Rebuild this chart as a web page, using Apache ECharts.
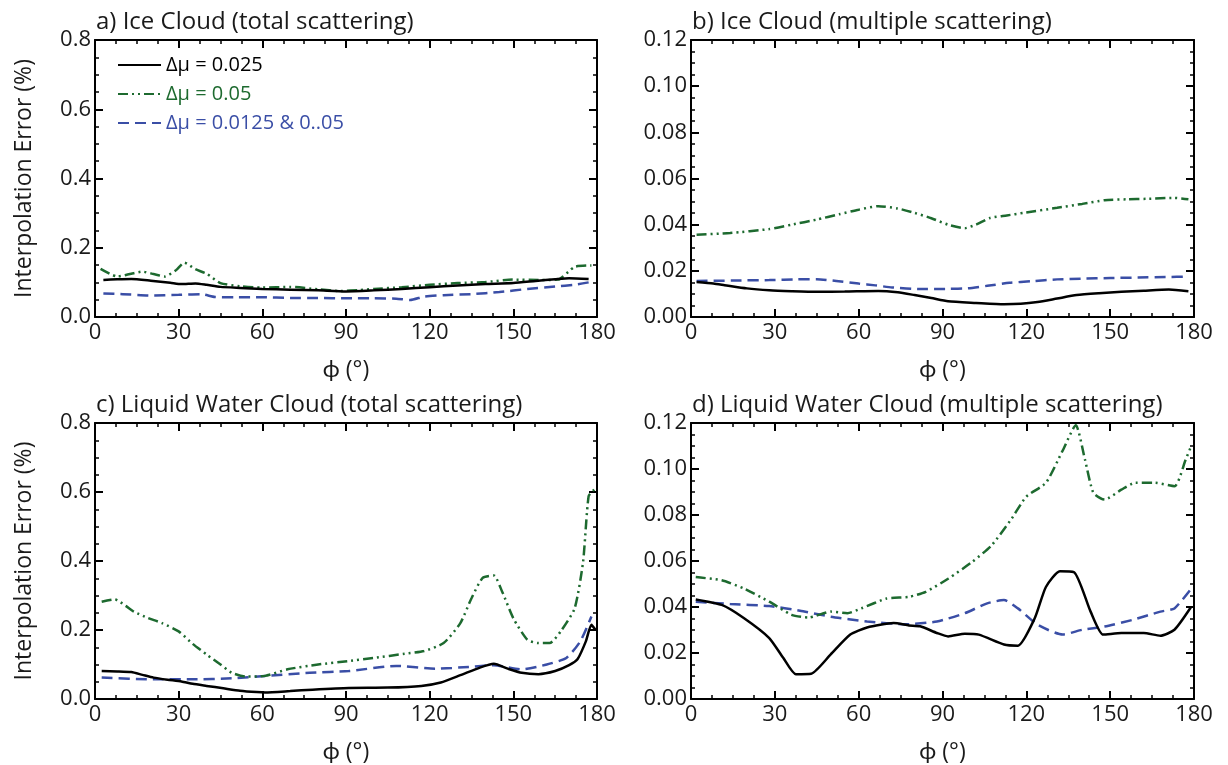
<!DOCTYPE html>
<html><head><meta charset="utf-8">
<script src="https://cdn.jsdelivr.net/npm/echarts@6/dist/echarts.min.js"></script>
<style>html,body{margin:0;padding:0;background:#fff}#c{width:1228px;height:765px}</style>
</head><body><div id="c"></div>
<script>
// ---- data (phi in degrees, interpolation error in %) ----
const seriesNames = ['Δμ = 0.025', 'Δμ = 0.05', 'Δμ = 0.0125 & 0..05'];
const panelTitles = ['a) Ice Cloud (total scattering)', 'b) Ice Cloud (multiple scattering)',
  'c) Liquid Water Cloud (total scattering)', 'd) Liquid Water Cloud (multiple scattering)'];
const xTicks = [0, 30, 60, 90, 120, 150, 180];
const yMaxTotal = 0.8, yStepTotal = 0.2;
const yMaxMulti = 0.12, yStepMulti = 0.02;

const a_black = [[3,0.107],[8,0.109],[13,0.110],[20,0.105],[27,0.099],[31,0.095],[36,0.097],[40,0.093],[45,0.087],[52,0.084],[60,0.081],[70,0.079],[80,0.077],[90,0.074],[100,0.077],[110,0.081],[120,0.086],[130,0.091],[140,0.095],[150,0.098],[158,0.104],[165,0.109],[170,0.112],[177,0.110]];
const a_green = [[2,0.139],[8,0.117],[13,0.125],[17,0.131],[21,0.124],[25,0.117],[29,0.135],[32,0.157],[36,0.138],[40,0.125],[45,0.098],[52,0.089],[60,0.085],[70,0.087],[80,0.080],[88,0.075],[95,0.078],[100,0.081],[110,0.086],[120,0.093],[130,0.098],[140,0.101],[150,0.108],[160,0.107],[166,0.108],[172,0.145],[178,0.149]];
const a_blue = [[3,0.068],[10,0.066],[20,0.062],[30,0.064],[38,0.066],[43,0.058],[50,0.057],[60,0.057],[70,0.055],[80,0.055],[90,0.054],[100,0.054],[108,0.053],[113,0.049],[118,0.059],[125,0.063],[135,0.066],[145,0.072],[155,0.081],[165,0.088],[172,0.093],[177,0.100]];

const b_black = [[2,0.0152],[8,0.0145],[12,0.0138],[20,0.0124],[28,0.0116],[36,0.0112],[45,0.0109],[55,0.0110],[67,0.0113],[74,0.0107],[80,0.0095],[86,0.0082],[92,0.0068],[102,0.0061],[112,0.0055],[118,0.0057],[124,0.0065],[131,0.0080],[138,0.0095],[146,0.0103],[154,0.0109],[162,0.0114],[171,0.0119],[178,0.0112]];
const b_green = [[2,0.0356],[14,0.0364],[28,0.0381],[36,0.0400],[45,0.0422],[53,0.0445],[60,0.0465],[67,0.0480],[74,0.0470],[80,0.0451],[86,0.0428],[92,0.0400],[98,0.0385],[102,0.0400],[107,0.0429],[113,0.0440],[119,0.0451],[131,0.0473],[140,0.0490],[148,0.0506],[156,0.0510],[163,0.0512],[173,0.0516],[178,0.0510]];
const b_blue = [[2,0.0156],[15,0.0158],[28,0.0160],[38,0.0163],[45,0.0164],[52,0.0156],[60,0.0145],[66,0.0137],[72,0.0128],[82,0.0121],[92,0.0122],[99,0.0124],[106,0.0135],[114,0.0148],[122,0.0155],[131,0.0163],[140,0.0166],[150,0.0169],[160,0.0171],[170,0.0173],[178,0.0175]];

const c_black = [[2.4,0.081],[8,0.080],[13,0.078],[17,0.070],[21,0.062],[26,0.056],[31,0.051],[35,0.044],[40,0.038],[46,0.031],[52,0.024],[58,0.020],[61,0.019],[70,0.023],[78,0.027],[91,0.032],[105,0.033],[117,0.038],[124,0.048],[131,0.069],[138,0.091],[143,0.102],[148,0.088],[153,0.076],[159,0.072],[165,0.081],[170,0.098],[173,0.115],[176,0.167],[178,0.215],[179.5,0.200]];
const c_green = [[2.4,0.282],[7,0.289],[11,0.270],[14,0.253],[19,0.235],[24,0.220],[30,0.196],[35,0.160],[40,0.129],[45,0.100],[49,0.076],[54,0.065],[61,0.067],[69,0.086],[80,0.100],[91,0.110],[100,0.119],[111,0.131],[118,0.139],[125,0.162],[131,0.220],[135,0.292],[139,0.351],[143,0.358],[146,0.311],[150,0.234],[155,0.172],[159,0.162],[163,0.162],[167,0.196],[172,0.263],[175,0.397],[177,0.588],[179,0.607]];
const c_blue = [[2.4,0.062],[21,0.057],[35,0.057],[49,0.060],[61,0.067],[77,0.076],[91,0.081],[108,0.096],[122,0.088],[134,0.093],[143,0.098],[153,0.086],[162,0.100],[169,0.119],[174,0.167],[178,0.239]];

const d_black = [[1.7,0.0433],[11,0.0409],[19,0.0351],[28,0.0265],[33,0.0179],[37.5,0.0108],[43,0.0110],[50,0.0194],[57,0.0280],[63,0.0311],[72.5,0.0330],[78,0.0320],[82,0.0316],[88,0.0287],[92,0.0272],[98,0.0284],[103,0.0280],[112,0.0237],[117,0.0232],[123,0.0351],[127,0.0487],[132,0.0555],[137,0.0552],[143,0.0380],[147.5,0.0280],[154,0.0287],[162,0.0287],[168,0.0275],[173,0.0301],[179,0.0401]];
const d_green = [[1.7,0.0530],[11,0.0516],[19,0.0480],[28,0.0423],[36,0.0366],[42,0.0354],[50,0.0380],[56,0.0373],[61,0.0394],[70,0.0437],[78,0.0444],[84,0.0466],[92,0.0523],[100.5,0.0595],[107.5,0.0667],[114.5,0.0780],[120,0.0880],[127,0.0940],[133,0.1080],[137.7,0.1190],[141,0.1040],[144,0.0896],[148,0.0867],[154,0.0910],[159,0.0940],[166,0.0940],[173,0.0925],[177,0.1040],[179,0.1100]];
const d_blue = [[1.7,0.0423],[14,0.0413],[28,0.0404],[39,0.0384],[50,0.0358],[63,0.0337],[77,0.0325],[88,0.0337],[98,0.0373],[106,0.0416],[112,0.0430],[117,0.0394],[124,0.0323],[133,0.0280],[140,0.0301],[148,0.0315],[158,0.0344],[168,0.0380],[173,0.0394],[179,0.0480]];

// ---- layout / style ----
const FONT = '"Open Sans", Lato, sans-serif';
const TXT = '#1a1a1a';
const colors = ['#000000', '#1d6a2f', '#3a4ea6'];
const dashes = ['solid', [10, 4, 2, 4, 2, 4], [11, 6]];
const grids = [
  {left: 95, top: 40, width: 502, height: 277},
  {left: 691, top: 40, width: 503, height: 277},
  {left: 95, top: 423, width: 502, height: 278},
  {left: 691, top: 423, width: 503, height: 278}
];
const panelData = [[a_black, a_green, a_blue], [b_black, b_green, b_blue], [c_black, c_green, c_blue], [d_black, d_green, d_blue]];

const axisLineStyle = {onZero: false, lineStyle: {color: '#000', width: 2}};
function xAx(i, pos) {
  return {
    type: 'value', gridIndex: i, position: pos, min: xTicks[0], max: xTicks[xTicks.length - 1], interval: 30,
    axisLine: axisLineStyle,
    axisTick: {show: true, inside: true, length: 8, lineStyle: {color: '#000', width: 2}},
    minorTick: {show: true, splitNumber: 4, length: 4, lineStyle: {color: '#000', width: 1.5}},
    splitLine: {show: false},
    axisLabel: {show: pos === 'bottom', color: TXT, fontSize: 22, fontFamily: FONT, margin: 5},
    name: pos === 'bottom' ? 'ϕ (°)' : '', nameLocation: 'middle', nameGap: 42,
    nameTextStyle: {color: TXT, fontSize: 23, fontFamily: FONT}
  };
}
function yAx(i, pos) {
  const multi = (i === 1 || i === 3);
  return {
    type: 'value', gridIndex: i, position: pos, min: 0,
    max: multi ? yMaxMulti : yMaxTotal, interval: multi ? yStepMulti : yStepTotal,
    axisLine: axisLineStyle,
    axisTick: {show: true, inside: true, length: 8, lineStyle: {color: '#000', width: 2}},
    minorTick: {show: true, splitNumber: 4, length: 4, lineStyle: {color: '#000', width: 1.5}},
    splitLine: {show: false},
    axisLabel: {show: pos === 'left', color: TXT, fontSize: 22, fontFamily: FONT, margin: 4,
      formatter: v => v.toFixed(multi ? 2 : 1)},
    name: (pos === 'left' && !multi) ? 'Interpolation Error (%)' : '', nameLocation: 'middle', nameGap: 59,
    nameTextStyle: {color: TXT, fontSize: 23, fontFamily: FONT}
  };
}

const xAxes = [], yAxes = [], series = [];
for (let i = 0; i < 4; i++) { xAxes.push(xAx(i, 'bottom')); yAxes.push(yAx(i, 'left')); }
for (let i = 0; i < 4; i++) { xAxes.push(xAx(i, 'top')); yAxes.push(yAx(i, 'right')); }
for (let i = 0; i < 4; i++) {
  for (let s = 0; s < 3; s++) {
    series.push({
      type: 'line', name: seriesNames[s], xAxisIndex: i, yAxisIndex: i,
      data: panelData[i][s], showSymbol: false, symbol: 'none', smooth: 0.2,
      lineStyle: {color: colors[s], width: 2.5, type: dashes[s]},
      itemStyle: {color: colors[s]}, z: 3 - s
    });
  }
}

const titles = panelTitles.map((t, i) => ({
  text: t, left: grids[i].left + 1, top: grids[i].top - 30, padding: 0,
  textStyle: {color: TXT, fontSize: 24, fontWeight: 'normal', fontFamily: FONT}
}));

const chart = echarts.init(document.getElementById('c'), null, {renderer: 'canvas'});
chart.setOption({
  animation: false,
  backgroundColor: '#fff',
  title: titles,
  grid: grids.map(g => Object.assign({containLabel: false}, g)),
  legend: {
    orient: 'vertical', left: 112, top: 50, itemWidth: 43, itemHeight: 18, itemGap: 9,
    itemStyle: {opacity: 0},
    data: seriesNames.map((n, s) => ({name: n, textStyle: {color: colors[s]}})),
    textStyle: {fontSize: 20, fontFamily: FONT}
  },
  xAxis: xAxes, yAxis: yAxes, series: series
});
</script></body></html>
